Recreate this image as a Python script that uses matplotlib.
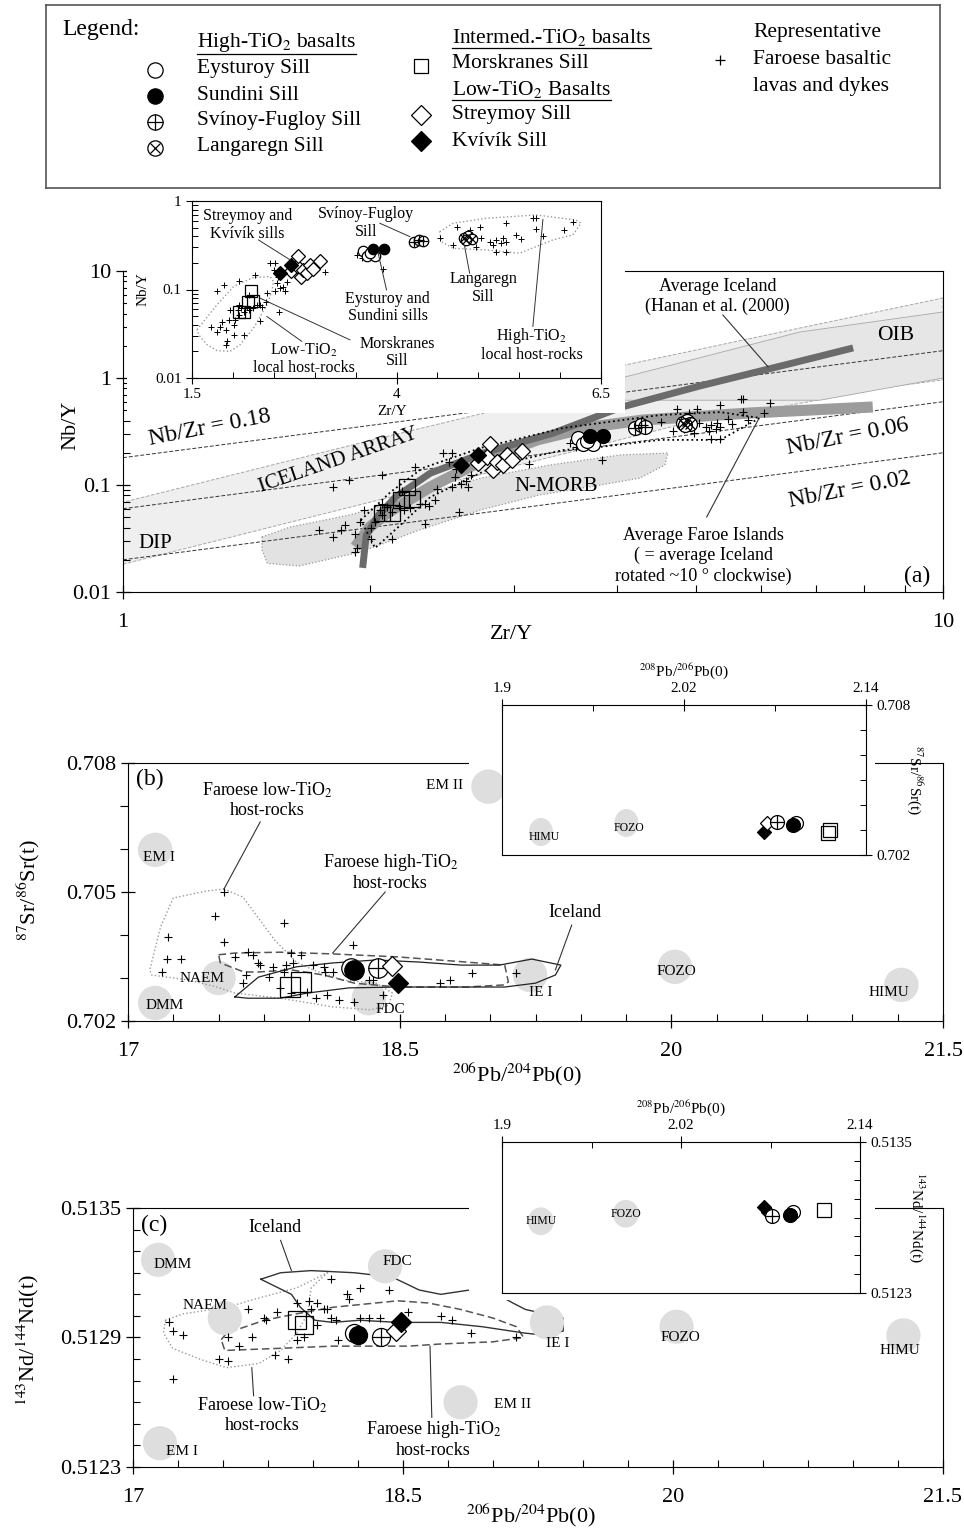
import matplotlib
matplotlib.use('Agg')
import matplotlib.pyplot as plt
import matplotlib.ticker as mticker
from matplotlib.patches import Ellipse, Rectangle

plt.rcParams['font.family'] = ['Liberation Serif', 'DejaVu Serif']
plt.rcParams['mathtext.fontset'] = 'stix'

W, H = 964, 1528

# ---------------- (a) Zr/Y vs Nb/Y ----------------
host_zry = [1.805, 1.886, 2.069, 2.272, 2.191, 2.415, 1.732, 1.805, 1.919, 1.866,
            1.947, 1.927, 1.919, 2.008, 2.028, 2.069, 2.057, 2.069, 2.13, 2.333,
            2.008, 2.569, 2.402, 2.333, 1.968, 1.846, 2.10, 2.17, 2.24, 2.30,
            2.36, 2.13, 2.20, 2.50, 2.55,
            2.455, 2.516, 2.537, 2.516, 2.618, 2.638, 2.659, 2.58, 3.126,
            3.512, 3.573, 3.634, 3.837, 4.528,
            4.74, 4.894, 5.016, 4.691, 4.833, 4.976, 5.037, 5.138, 5.179, 5.22,
            5.30, 5.28, 5.341, 5.22, 5.463, 5.524, 5.667, 5.707, 5.707, 5.789,
            5.341, 6.053, 6.154, 5.341, 4.85, 4.93]
host_nby = [0.095, 0.111, 0.125, 0.146, 0.087, 0.091, 0.0376, 0.033, 0.035, 0.0425,
            0.0455, 0.026, 0.0234, 0.040, 0.0455, 0.052, 0.059, 0.067, 0.031, 0.0436,
            0.031, 0.0555, 0.072, 0.067, 0.059, 0.038, 0.062, 0.064, 0.061, 0.066,
            0.063, 0.056, 0.058, 0.165, 0.14,
            0.198, 0.198, 0.118, 0.095, 0.108, 0.095, 0.123, 0.103, 0.156,
            0.246, 0.226, 0.236, 0.171, 0.386,
            0.514, 0.471, 0.514, 0.319, 0.333, 0.305, 0.379, 0.348, 0.319, 0.363,
            0.379, 0.333, 0.348, 0.268, 0.414, 0.37, 0.638, 0.638, 0.479, 0.403,
            0.56, 0.471, 0.585, 0.268, 0.38, 0.395]

morskranes_zry = [2.22, 2.18, 2.25, 2.07, 2.13]
morskranes_nby = [0.096, 0.072, 0.074, 0.055, 0.055]
kvivik_zry = [2.58, 2.71]
kvivik_nby = [0.154, 0.19]
streymoy_zry = [2.71, 2.78, 2.80, 2.83, 2.86, 2.91, 2.94, 2.98, 3.07]
streymoy_nby = [0.161, 0.183, 0.24, 0.138, 0.164, 0.154, 0.19, 0.171, 0.21]
eysturoy_zry = [3.59, 3.64, 3.74, 3.68]
eysturoy_nby = [0.275, 0.24, 0.24, 0.26]
sundini_zry = [3.71, 3.85]
sundini_nby = [0.29, 0.29]
svinoy_zry = [4.21, 4.28, 4.33]
svinoy_nby = [0.34, 0.36, 0.35]
langaregn_zry = [4.82, 4.87, 4.92, 4.85]
langaregn_nby = [0.38, 0.40, 0.37, 0.36]

nbzr_ratios = [0.18, 0.06, 0.02]

avg_iceland_zry = [1.96, 1.98, 2.05, 2.15, 2.37, 2.75, 3.35, 4.06, 5.05, 6.33, 7.77]
avg_iceland_nby = [0.0168, 0.0341, 0.0525, 0.0772, 0.129, 0.199, 0.306, 0.536, 0.842, 1.29, 1.91]
avg_faroe_zry = [1.92, 2.0, 2.10, 2.37, 2.75, 3.20, 3.71, 4.31, 5.82, 8.21]
avg_faroe_nby = [0.0264, 0.0405, 0.0547, 0.0958, 0.171, 0.264, 0.348, 0.405, 0.471, 0.536]

faroe_env_zry = [1.95, 2.12, 2.32, 2.73, 3.44, 4.52, 5.35, 5.98, 5.35, 4.52, 3.82, 3.44,
                 2.86, 2.37, 2.18, 2.03, 1.95]
faroe_env_nby = [0.047, 0.086, 0.144, 0.222, 0.341, 0.451, 0.48, 0.423, 0.264, 0.264, 0.227,
                 0.212, 0.154, 0.0772, 0.0423, 0.0258, 0.047]

array_zry = [1, 2, 3, 4, 5, 6.03, 8.55, 10, 10, 6.69, 4.09, 3, 2, 1]
array_nby = [0.0182, 0.069, 0.15, 0.26, 0.40, 0.50, 0.82, 0.96, 5.59, 2.93, 1.32, 0.55, 0.26, 0.069]
oib_zry = [4.09, 6.69, 10, 10, 7.08, 4.09]
oib_nby = [1.02, 2.69, 4.14, 1.0, 0.62, 0.62]
nmorb_zry = [1.477, 1.60, 1.89, 2.30, 2.73, 3.32, 4.04, 4.62, 4.58, 4.27, 3.82, 3.22,
             2.73, 2.30, 1.95, 1.64, 1.50, 1.477]
nmorb_nby = [0.0327, 0.0405, 0.0525, 0.0806, 0.116, 0.154, 0.191, 0.199, 0.154, 0.116, 0.100,
             0.0806, 0.0584, 0.038, 0.0237, 0.0175, 0.0185, 0.025]

low_env_zry = [1.561, 1.805, 2.008, 2.252, 2.455, 2.496, 2.476, 2.415, 2.252, 2.089, 1.967,
               1.805, 1.683, 1.581, 1.561]
low_env_nby = [0.0351, 0.0671, 0.108, 0.137, 0.140, 0.123, 0.095, 0.067, 0.0366, 0.0238, 0.020,
               0.0204, 0.0238, 0.0308, 0.0351]
high_env_zry = [4.528, 4.691, 5.098, 5.707, 6.195, 6.256, 6.154, 5.911, 5.504, 5.098, 4.691,
                4.549, 4.528]
high_env_nby = [0.451, 0.56, 0.638, 0.695, 0.61, 0.56, 0.414, 0.363, 0.257, 0.28, 0.292,
                0.348, 0.451]

# ---------------- (b) 206Pb/204Pb vs 87Sr/86Sr ----------------
host_b_pb = [17.53, 17.48, 17.53, 17.86, 17.22, 17.215, 17.29, 17.19, 18.24, 17.59,
             17.66, 17.69, 17.72, 17.73, 17.80, 17.87, 17.91, 17.90, 17.955, 17.86,
             17.78, 17.65, 17.635, 18.02, 18.08, 18.09, 18.13, 18.33, 18.35, 17.84,
             17.90, 17.99, 18.04, 18.10, 18.165, 18.25, 18.41, 18.72, 18.78, 18.90, 19.14]
host_b_sr = [0.70500, 0.70444, 0.70384, 0.70428, 0.70395, 0.70344, 0.70344, 0.70314, 0.70377, 0.70349,
             0.70360, 0.70354, 0.70335, 0.70330, 0.70326, 0.70330, 0.70335, 0.70358, 0.70354, 0.70314,
             0.70302, 0.70307, 0.70288, 0.70330, 0.70326, 0.70314, 0.70314, 0.70295, 0.70295, 0.70277,
             0.70265, 0.70267, 0.70253, 0.70260, 0.70249, 0.70244, 0.70260, 0.70288, 0.70295, 0.70312,
             0.70312]

low_b_pb = [17.53, 17.635, 17.81, 17.93, 18.02, 18.19, 18.37, 18.46, 18.44, 18.34, 18.13, 17.84,
            17.59, 17.49, 17.34, 17.13, 17.12, 17.18, 17.25, 17.43, 17.53]
low_b_sr = [0.70507, 0.70488, 0.70388, 0.70337, 0.70319, 0.70295, 0.70288, 0.70265, 0.70237,
            0.70226, 0.70233, 0.70253, 0.70265, 0.70279, 0.70295, 0.70307, 0.70319, 0.70419,
            0.70486, 0.70502, 0.70507]
high_b_pb = [17.50, 17.59, 17.84, 18.13, 18.49, 18.87, 19.08, 19.10, 19.08, 18.87, 18.49, 18.25,
             18.08, 17.90, 17.72, 17.64, 17.51, 17.50]
high_b_sr = [0.70354, 0.70358, 0.70360, 0.70356, 0.70349, 0.70337, 0.70330, 0.70291, 0.70284,
             0.70279, 0.70279, 0.70288, 0.70307, 0.70319, 0.70314, 0.70314, 0.70335, 0.70354]
iceland_b_pb = [17.59, 17.72, 17.93, 18.13, 18.37, 18.61, 18.84, 19.05, 19.23, 19.39, 19.36,
                19.25, 19.08, 18.72, 18.49, 18.22, 17.99, 17.84, 17.66, 17.59]
iceland_b_sr = [0.70256, 0.70302, 0.70326, 0.70335, 0.70342, 0.70337, 0.70330, 0.70330, 0.70344,
                0.70330, 0.70307, 0.70288, 0.70279, 0.70279, 0.70279, 0.70277, 0.70265, 0.70253,
                0.70253, 0.70256]

mantle_b_names = ['EM I', 'DMM', 'NAEM', 'FDC', 'IE I', 'FOZO', 'HIMU', 'EM II']
mantle_b_pb = [17.15, 17.15, 17.50, 18.33, 19.22, 20.02, 21.27, 18.99]
mantle_b_sr = [0.70598, 0.70242, 0.70300, 0.70253, 0.70307, 0.70326, 0.70284, 0.70745]

sills_b = {
    'morskranes': ([17.895, 17.955], [0.70279, 0.70291]),
    'eysturoy': ([18.23], [0.70323]),
    'sundini': ([18.25], [0.70319]),
    'svinoy': ([18.38], [0.70323]),
    'streymoy': ([18.46], [0.70328]),
    'kvivik': ([18.49], [0.70288]),
}

inset_b_names = ['HIMU', 'FOZO']
inset_b_pb86 = [1.9257, 1.982]
inset_b_sr = [0.70292, 0.70328]
inset_sills_b = {
    'morskranes': ([2.115, 2.116], [0.70288, 0.7030]),
    'kvivik': ([2.073], [0.70292]),
    'streymoy': ([2.075], [0.70328]),
    'svinoy': ([2.081], [0.70332]),
    'eysturoy': ([2.094], [0.70328]),
    'sundini': ([2.092], [0.70320]),
}

# ---------------- (c) 206Pb/204Pb vs 143Nd/144Nd ----------------
host_c_pb = [18.10, 18.26, 18.19, 18.20, 18.42, 17.91, 17.98, 18.02, 18.06, 18.08,
             17.99, 17.80, 17.73, 17.64, 17.74, 18.10, 18.13, 18.02, 17.95, 17.91,
             17.66, 17.53, 17.59, 17.79, 17.86, 17.48, 17.53, 17.28, 17.22, 17.20,
             17.22, 18.14, 18.26, 18.31, 18.37, 18.53, 18.71, 18.77, 18.88, 19.13]
host_c_nd = [0.51317, 0.51313, 0.51310, 0.51308, 0.51312, 0.51306, 0.51307, 0.51306, 0.51303, 0.51303,
             0.51303, 0.51302, 0.51299, 0.51303, 0.51298, 0.51299, 0.51298, 0.51296, 0.51290, 0.51289,
             0.51290, 0.51290, 0.51286, 0.51282, 0.51280, 0.51280, 0.51279, 0.51291, 0.51293, 0.51297,
             0.51271, 0.51289, 0.51299, 0.51299, 0.51299, 0.51302, 0.51300, 0.51298, 0.51292, 0.51290]

iceland_c_pb = [17.71, 17.82, 17.99, 18.23, 18.44, 18.59, 18.71, 18.87, 18.98, 19.11, 19.18,
                19.39, 19.39, 19.30, 19.18, 18.94, 18.71, 18.47, 18.26, 18.11, 18.01, 17.93,
                17.88, 17.71]
iceland_c_nd = [0.51317, 0.51320, 0.51321, 0.51320, 0.51318, 0.51312, 0.51310, 0.51312, 0.51312,
                0.51306, 0.51303, 0.51299, 0.51293, 0.51291, 0.51292, 0.51295, 0.51297, 0.51297,
                0.51298, 0.51297, 0.51298, 0.51304, 0.51310, 0.51317]
high_c_pb = [17.49, 17.52, 17.73, 17.91, 18.11, 18.35, 18.47, 18.64, 18.82, 19.00, 19.13, 19.17,
             19.00, 18.71, 18.53, 18.35, 18.11, 17.82, 17.51, 17.49]
high_c_nd = [0.51289, 0.51292, 0.51298, 0.51301, 0.51304, 0.51306, 0.51307, 0.51306, 0.51303,
             0.51299, 0.51295, 0.51290, 0.51288, 0.51287, 0.51286, 0.51286, 0.51286, 0.51285,
             0.51284, 0.51289]
low_c_pb = [17.18, 17.28, 17.52, 17.73, 17.91, 18.08, 17.99, 17.97, 17.91, 17.82, 17.70, 17.52,
            17.37, 17.22, 17.17, 17.18]
low_c_nd = [0.51298, 0.51301, 0.51304, 0.51309, 0.51313, 0.51320, 0.51313, 0.51301, 0.51292,
            0.51284, 0.51278, 0.51276, 0.51280, 0.51285, 0.51292, 0.51298]

mantle_c_names = ['DMM', 'FDC', 'NAEM', 'IE I', 'FOZO', 'HIMU', 'EM II', 'EM I']
mantle_c_pb = [17.14, 18.40, 17.51, 19.30, 20.02, 21.28, 18.82, 17.15]
mantle_c_nd = [0.51326, 0.51323, 0.51299, 0.51297, 0.51295, 0.51291, 0.51260, 0.51241]

sills_c = {
    'morskranes': ([17.91, 17.95], [0.51298, 0.51296]),
    'eysturoy': ([18.23], [0.51292]),
    'sundini': ([18.25], [0.51291]),
    'svinoy': ([18.38], [0.51290]),
    'streymoy': ([18.46], [0.51293]),
    'kvivik': ([18.49], [0.51297]),
}

inset_c_names = ['HIMU', 'FOZO']
inset_c_pb86 = [1.926, 1.983]
inset_c_nd = [0.51287, 0.51293]
inset_sills_c = {
    'morskranes': ([2.116], [0.51296]),
    'streymoy': ([2.078], [0.51294]),
    'kvivik': ([2.0756], [0.51298]),
    'svinoy': ([2.081], [0.51291]),
    'eysturoy': ([2.095], [0.51294]),
    'sundini': ([2.093], [0.51292]),
}


def box(x0, y0, x1, y1):
    """Axes rectangle from pixel corners measured from the top-left."""
    return [x0 / W, 1 - y1 / H, (x1 - x0) / W, (y1 - y0) / H]


def draw_sill(ax, xs, ys, kind, ms, z=6):
    kw = dict(ls='none', zorder=z, mec='black', mew=0.9)
    if kind == 'eysturoy':
        ax.plot(xs, ys, 'o', ms=ms, mfc='white', **kw)
    elif kind == 'sundini':
        ax.plot(xs, ys, 'o', ms=ms, mfc='black', **kw)
    elif kind == 'svinoy':
        ax.plot(xs, ys, 'o', ms=ms, mfc='white', **kw)
        ax.plot(xs, ys, '+', ms=ms, **kw)
    elif kind == 'langaregn':
        ax.plot(xs, ys, 'o', ms=ms, mfc='white', **kw)
        ax.plot(xs, ys, 'x', ms=ms * 0.68, **kw)
    elif kind == 'streymoy':
        ax.plot(xs, ys, 'D', ms=ms * 0.75, mfc='white', **kw)
    elif kind == 'kvivik':
        ax.plot(xs, ys, 'D', ms=ms * 0.75, mfc='black', **kw)
    elif kind == 'morskranes':
        ax.plot(xs, ys, 's', ms=ms, mfc='none', **kw)


def fixed_ticks(axis, major, labels, minor):
    axis.set_major_locator(mticker.FixedLocator(major))
    axis.set_major_formatter(mticker.FixedFormatter(labels))
    axis.set_minor_locator(mticker.FixedLocator(minor))
    axis.set_minor_formatter(mticker.NullFormatter())


def log_minors(lo_exp, hi_exp):
    return [m * 10.0 ** e for e in range(lo_exp, hi_exp) for m in range(2, 10)]


fig = plt.figure(figsize=(W / 100, H / 100), dpi=100)
fig.patch.set_facecolor('white')

# ---------------- legend box ----------------
lg = fig.add_axes(box(46, 5, 940, 188))
lg.set_xlim(46, 940)
lg.set_ylim(188, 5)
lg.set_xticks([])
lg.set_yticks([])
for s in lg.spines.values():
    s.set_color('#555555')
    s.set_linewidth(1.2)
LFS = 15.5
lg.text(62, 30, 'Legend:', fontsize=17, va='center')
hdr_high = lg.text(197, 43, 'High-TiO$_2$ basalts', fontsize=LFS, va='center')
col1 = [('eysturoy', 'Eysturoy Sill'), ('sundini', 'Sundini Sill'),
        ('svinoy', 'Svínoy-Fugloy Sill'), ('langaregn', 'Langaregn Sill')]
for i, (kind, name) in enumerate(col1):
    y = 70 + 26 * i
    draw_sill(lg, [155], [y], kind, 11)
    lg.text(197, y - 1, name, fontsize=LFS, va='center')
hdr_mid = lg.text(452, 37, 'Intermed.-TiO$_2$ basalts', fontsize=LFS, va='center')
draw_sill(lg, [421], [66], 'morskranes', 10)
lg.text(452, 63, 'Morskranes Sill', fontsize=LFS, va='center')
hdr_low = lg.text(452, 89, 'Low-TiO$_2$ Basalts', fontsize=LFS, va='center')
draw_sill(lg, [421], [115], 'streymoy', 13)
lg.text(452, 115, 'Streymoy Sill', fontsize=LFS, va='center')
draw_sill(lg, [421], [141], 'kvivik', 13)
lg.text(452, 141, 'Kvívík Sill', fontsize=LFS, va='center')
lg.plot([720], [60], '+', color='black', ms=7, mew=0.9)
for i, line in enumerate(['Representative', 'Faroese basaltic', 'lavas and dykes']):
    lg.text(753, 33 + 26.5 * i, line, fontsize=LFS, va='center')

# ---------------- panel (a) ----------------
ax = fig.add_axes(box(123, 271, 943, 592))
ax.set_xscale('log')
ax.set_yscale('log')
ax.set_xlim(1, 10)
ax.set_ylim(0.01, 10)
fixed_ticks(ax.xaxis, [1, 10], ['1', '10'], list(range(2, 10)))
fixed_ticks(ax.yaxis, [0.01, 0.1, 1, 10], ['0.01', '0.1', '1', '10'], log_minors(-2, 1))
ax.tick_params(which='major', direction='inout', length=10, width=0.9, labelsize=16)
ax.tick_params(axis='x', which='major', pad=10)
ax.tick_params(which='minor', direction='in', length=5, width=0.8)
ax.spines['top'].set_bounds(4.09, 10)
ax.set_xlabel('Zr/Y', fontsize=16)
ax.set_ylabel('Nb/Y', fontsize=16)
ax.xaxis.set_label_coords(0.474, -0.103)
ax.yaxis.set_label_coords(-0.052, 0.52)

ax.fill(array_zry, array_nby, fc='#efefef', ec='#a8a8a8', ls='--', lw=0.7, zorder=1)
ax.fill(oib_zry, oib_nby, fc='#e6e6e6', ec='#a8a8a8', lw=0.6, zorder=1.1)
ax.fill(nmorb_zry, nmorb_nby, fc='#e2e2e2', ec='#999999', ls=':', lw=0.9, zorder=1.2)
for r in nbzr_ratios:
    ax.plot([1, 10], [r, 10 * r], color='#333333', ls=(0, (4, 2)), lw=0.7, zorder=1.5)
ax.plot(avg_faroe_zry, avg_faroe_nby, color='#9c9c9c', lw=8, solid_capstyle='butt', zorder=1.8)
ax.plot(avg_iceland_zry, avg_iceland_nby, color='#6b6b6b', lw=5, solid_capstyle='butt', zorder=1.9)
ax.plot(faroe_env_zry, faroe_env_nby, color='black', ls=':', lw=1.3, zorder=2.2)
ax.plot(host_zry, host_nby, '+', color='black', ms=6, mew=0.8, ls='none', zorder=3)
draw_sill(ax, morskranes_zry, morskranes_nby, 'morskranes', 11)
draw_sill(ax, streymoy_zry, streymoy_nby, 'streymoy', 11.5)
draw_sill(ax, kvivik_zry, kvivik_nby, 'kvivik', 11.5)
draw_sill(ax, eysturoy_zry, eysturoy_nby, 'eysturoy', 10)
draw_sill(ax, sundini_zry, sundini_nby, 'sundini', 10)
draw_sill(ax, svinoy_zry, svinoy_nby, 'svinoy', 10)
draw_sill(ax, langaregn_zry, langaregn_nby, 'langaregn', 10)

# white area kept clear for the inset
ax.add_patch(Rectangle((1.01, 0.47), 4.09 - 1.01, 11, fc='white', ec='none',
                       zorder=4, clip_on=False))

ax.text(1.277, 0.345, 'Nb/Zr = 0.18', fontsize=17, rotation=11, ha='center', va='center', zorder=7)
ax.text(7.66, 0.281, 'Nb/Zr = 0.06', fontsize=17, rotation=11, ha='center', va='center', zorder=7)
ax.text(7.69, 0.0898, 'Nb/Zr = 0.02', fontsize=17, rotation=11, ha='center', va='center', zorder=7)
ax.text(1.83, 0.171, 'ICELAND ARRAY', fontsize=15, rotation=19, ha='center', va='center', zorder=7)
ax.text(1.094, 0.0287, 'DIP', fontsize=15, ha='center', va='center', zorder=7)
ax.text(3.37, 0.0958, 'N-MORB', fontsize=15, ha='center', va='center', zorder=7)
ax.text(8.75, 2.51, 'OIB', fontsize=15.5, ha='center', va='center', zorder=7)
ax.text(5.31, 5.83, 'Average Iceland\n(Hanan et al. (2000)', fontsize=13, ha='center',
        va='center', linespacing=1.2, zorder=7)
ax.plot([5.39, 6.12], [3.88, 1.27], color='#333333', lw=0.8, zorder=7)
ax.text(5.10, 0.0217, 'Average Faroe Islands\n( = average Iceland\nrotated ~10 ° clockwise)',
        fontsize=13, ha='center', va='center', linespacing=1.25, zorder=7)
ax.plot([5.15, 5.95], [0.0502, 0.405], color='#333333', lw=0.8, zorder=7)
ax.text(9.30, 0.0141, '(a)', fontsize=17, ha='center', va='center', zorder=7)

# inset of panel (a), linear Zr/Y
axi = fig.add_axes(box(192, 201, 601, 378))
axi.set_yscale('log')
axi.set_xlim(1.5, 6.5)
axi.set_ylim(0.01, 1)
fixed_ticks(axi.xaxis, [1.5, 4, 6.5], ['1.5', '4', '6.5'],
            [2.0, 2.5, 3.0, 3.5, 4.5, 5.0, 5.5, 6.0])
fixed_ticks(axi.yaxis, [0.01, 0.1, 1], ['0.01', '0.1', '1'], log_minors(-2, 0))
axi.tick_params(which='major', direction='inout', length=8, width=0.8, labelsize=11)
axi.tick_params(which='minor', direction='in', length=4, width=0.7)
axi.set_xlabel('Zr/Y', fontsize=11)
axi.set_ylabel('Nb/Y', fontsize=11)
axi.xaxis.set_label_coords(0.489, -0.15)
axi.yaxis.set_label_coords(-0.103, 0.5)
axi.plot(low_env_zry, low_env_nby, color='#999999', ls=':', lw=1.0, zorder=2)
axi.plot(high_env_zry, high_env_nby, color='#999999', ls=':', lw=1.0, zorder=2)
axi.plot(host_zry, host_nby, '+', color='black', ms=5, mew=0.7, ls='none', zorder=3)
draw_sill(axi, morskranes_zry, morskranes_nby, 'morskranes', 8)
draw_sill(axi, streymoy_zry, streymoy_nby, 'streymoy', 10)
draw_sill(axi, kvivik_zry, kvivik_nby, 'kvivik', 10)
draw_sill(axi, eysturoy_zry, eysturoy_nby, 'eysturoy', 7.5)
draw_sill(axi, sundini_zry, sundini_nby, 'sundini', 7.5)
draw_sill(axi, svinoy_zry, svinoy_nby, 'svinoy', 7.5)
draw_sill(axi, langaregn_zry, langaregn_nby, 'langaregn', 7.5)
IFS = 11.5
inset_notes = [
    (2.18, 0.536, 'Streymoy and\nKvívík sills', (2.313, 0.363), (2.70, 0.216)),
    (3.63, 0.565, 'Svínoy-Fugloy\nSill', (3.797, 0.56), (4.163, 0.396)),
    (3.89, 0.0622, 'Eysturoy and\nSundini sills', (3.776, 0.257), (3.878, 0.099)),
    (5.06, 0.104, 'Langaregn\nSill', (4.833, 0.305), (4.894, 0.153)),
    (5.65, 0.0238, 'High-TiO$_2$\nlocal host-rocks', (5.79, 0.62), (5.667, 0.0383)),
    (2.87, 0.0165, 'Low-TiO$_2$\nlocal host-rocks', (2.415, 0.0496), (2.84, 0.026)),
    (4.01, 0.0193, 'Morskranes\nSill', (2.333, 0.0798), (3.43, 0.027)),
]
for tx, ty, label, p0, p1 in inset_notes:
    axi.text(tx, ty, label, fontsize=IFS, ha='center', va='center', linespacing=1.1, zorder=8)
    axi.plot([p0[0], p1[0]], [p0[1], p1[1]], color='#333333', lw=0.7, zorder=7)


# ---------------- panels (b) and (c) ----------------
def pb_axes(rect):
    a = fig.add_axes(rect)
    a.set_xlim(17, 21.5)
    fixed_ticks(a.xaxis, [17, 18.5, 20, 21.5], ['17', '18.5', '20', '21.5'],
                [17 + 0.25 * k for k in range(19)])
    a.tick_params(which='major', direction='inout', length=10, width=0.9, labelsize=16)
    a.tick_params(axis='x', which='major', pad=10)
    a.tick_params(which='minor', direction='in', length=5, width=0.8)
    return a


def mantle_blobs(a, xs, ys, w, h):
    for x, y in zip(xs, ys):
        a.add_patch(Ellipse((x, y), w, h, fc='#dedede', ec='none', zorder=3))


# (b)
axb = pb_axes(box(128, 763, 943, 1021))
axb.set_ylim(0.702, 0.708)
fixed_ticks(axb.yaxis, [0.702, 0.705, 0.708], ['0.702', '0.705', '0.708'],
            [0.703, 0.704, 0.706, 0.707])
axb.tick_params(axis='y', which='minor', direction='out', length=6)
axb.set_xlabel('$^{206}$Pb/$^{204}$Pb(0)', fontsize=16)
axb.set_ylabel('$^{87}$Sr/$^{86}$Sr(t)', fontsize=16)
axb.xaxis.set_label_coords(0.477, -0.155)
axb.yaxis.set_label_coords(-0.106, 0.508)
axb.add_patch(Rectangle((18.883, 0.70579), 21.125 - 18.883, 0.0024, fc='white', ec='none',
                        zorder=2.6, clip_on=False))
mantle_blobs(axb, mantle_b_pb, mantle_b_sr, 0.19, 0.00080)
b_label_pos = {'EM I': (17.17, 0.70581), 'DMM': (17.20, 0.70235), 'NAEM': (17.41, 0.70300),
               'FDC': (18.45, 0.70226), 'IE I': (19.28, 0.70267), 'FOZO': (20.03, 0.70314),
               'HIMU': (21.20, 0.70267), 'EM II': (18.75, 0.70747)}
for name in mantle_b_names:
    x, y = b_label_pos[name]
    axb.text(x, y, name, fontsize=11, ha='center', va='center', zorder=8)
axb.plot(low_b_pb, low_b_sr, color='#9a9a9a', ls=':', lw=1.0, zorder=4)
axb.plot(high_b_pb, high_b_sr, color='#555555', ls=(0, (5, 2.5)), lw=1.1, zorder=4)
axb.plot(iceland_b_pb, iceland_b_sr, color='#222222', lw=0.9, zorder=4)
axb.plot(host_b_pb, host_b_sr, '+', color='black', ms=6, mew=0.8, ls='none', zorder=5)
for kind, (xs, ys) in sills_b.items():
    draw_sill(axb, xs, ys, kind, 14)
axb.text(17.12, 0.70761, '(b)', fontsize=17, ha='center', va='center', zorder=8)
axb.text(17.77, 0.70714, 'Faroese low-TiO$_2$\nhost-rocks', fontsize=13, ha='center',
         va='center', linespacing=1.15, zorder=8)
axb.plot([17.73, 17.53], [0.70663, 0.70507], color='#333333', lw=0.8, zorder=7)
axb.text(18.45, 0.70547, 'Faroese high-TiO$_2$\nhost-rocks', fontsize=13, ha='center',
         va='center', linespacing=1.15, zorder=8)
axb.plot([18.42, 18.13], [0.70500, 0.70358], color='#333333', lw=0.8, zorder=7)
axb.text(19.47, 0.70453, 'Iceland', fontsize=13, ha='center', va='center', zorder=8)
axb.plot([19.45, 19.36], [0.70423, 0.70319], color='#333333', lw=0.8, zorder=7)

# (c)
axc = pb_axes(box(133, 1208, 943, 1467))
axc.set_ylim(0.5123, 0.5135)
fixed_ticks(axc.yaxis, [0.5123, 0.5129, 0.5135], ['0.5123', '0.5129', '0.5135'],
            [0.5123 + 0.0001 * k for k in range(1, 12) if k != 6])
axc.set_xlabel('$^{206}$Pb/$^{204}$Pb(0)', fontsize=16)
axc.set_ylabel('$^{143}$Nd/$^{144}$Nd(t)', fontsize=16)
axc.xaxis.set_label_coords(0.491, -0.135)
axc.yaxis.set_label_coords(-0.113, 0.49)
axc.add_patch(Rectangle((18.867, 0.513073), 21.122 - 18.867, 0.0005, fc='white', ec='none',
                        zorder=2.6, clip_on=False))
mantle_blobs(axc, mantle_c_pb, mantle_c_nd, 0.19, 0.000158)
c_label_pos = {'DMM': (17.22, 0.51324), 'FDC': (18.47, 0.51325), 'NAEM': (17.40, 0.51305),
               'IE I': (19.36, 0.51287), 'FOZO': (20.04, 0.51290), 'HIMU': (21.26, 0.51284),
               'EM II': (19.11, 0.51259), 'EM I': (17.27, 0.51237)}
for name in mantle_c_names:
    x, y = c_label_pos[name]
    axc.text(x, y, name, fontsize=11, ha='center', va='center', zorder=8)
axc.plot(low_c_pb, low_c_nd, color='#9a9a9a', ls=':', lw=1.0, zorder=2)
axc.plot(high_c_pb, high_c_nd, color='#555555', ls=(0, (5, 2.5)), lw=1.1, zorder=2)
axc.plot(iceland_c_pb, iceland_c_nd, color='#333333', lw=1.0, zorder=2)
axc.plot(host_c_pb, host_c_nd, '+', color='black', ms=6, mew=0.8, ls='none', zorder=5)
for kind, (xs, ys) in sills_c.items():
    draw_sill(axc, xs, ys, kind, 13)
axc.text(17.12, 0.51342, '(c)', fontsize=17, ha='center', va='center', zorder=8)
axc.text(17.79, 0.51341, 'Iceland', fontsize=13, ha='center', va='center', zorder=8)
axc.plot([17.82, 17.88], [0.51335, 0.51321], color='#333333', lw=0.8, zorder=7)
axc.text(17.72, 0.51254, 'Faroese low-TiO$_2$\nhost-rocks', fontsize=13, ha='center',
         va='center', linespacing=1.15, zorder=8)
axc.plot([17.67, 17.66], [0.51263, 0.51276], color='#333333', lw=0.8, zorder=7)
axc.text(18.67, 0.51243, 'Faroese high-TiO$_2$\nhost-rocks', fontsize=13, ha='center',
         va='center', linespacing=1.15, zorder=8)
axc.plot([18.66, 18.65], [0.51253, 0.51286], color='#333333', lw=0.8, zorder=7)


# insets of (b) and (c), 208Pb/206Pb on top axis
def pb86_inset(rect, ylo, yhi, yminor, ylabels, ylabel):
    a = fig.add_axes(rect)
    a.set_xlim(1.9, 2.14)
    a.set_ylim(ylo, yhi)
    a.xaxis.tick_top()
    a.xaxis.set_label_position('top')
    a.yaxis.tick_right()
    a.yaxis.set_label_position('right')
    fixed_ticks(a.xaxis, [1.9, 2.02, 2.14], ['1.9', '2.02', '2.14'], [1.96, 2.08])
    fixed_ticks(a.yaxis, [ylo, yhi], ylabels, yminor)
    a.tick_params(which='major', direction='inout', length=8, width=0.8, labelsize=11)
    a.tick_params(which='minor', direction='in', length=4, width=0.7)
    a.set_xlabel('$^{208}$Pb/$^{206}$Pb(0)', fontsize=11, labelpad=4)
    a.set_ylabel(ylabel, fontsize=11, rotation=270, labelpad=10)
    return a


axbi = pb86_inset(box(502, 705, 866, 855), 0.702, 0.708, [0.703, 0.704, 0.705, 0.706, 0.707],
                  ['0.702', '0.708'], '$^{87}$Sr/$^{86}$Sr(t)')
mantle_blobs(axbi, inset_b_pb86, inset_b_sr, 0.0158, 0.00112)
for name, x, y in zip(inset_b_names, inset_b_pb86, inset_b_sr):
    axbi.text(x + 0.002, y - 0.0002, name, fontsize=8.5, ha='center', va='center', zorder=8)
for kind, (xs, ys) in inset_sills_b.items():
    draw_sill(axbi, xs, ys, kind, 10)

axci = pb86_inset(box(502, 1142, 860, 1293), 0.5123, 0.5135,
                  [0.5123 + 0.00015 * k for k in range(1, 8)],
                  ['0.5123', '0.5135'], '$^{143}$Nd/$^{144}$Nd(t)')
mantle_blobs(axci, inset_c_pb86, inset_c_nd, 0.0174, 0.00022)
for name, x, y in zip(inset_c_names, inset_c_pb86, inset_c_nd):
    axci.text(x, y, name, fontsize=8.5, ha='center', va='center', zorder=8)
for kind, (xs, ys) in inset_sills_c.items():
    draw_sill(axci, xs, ys, kind, 10)

# underline the legend group headings
fig.canvas.draw()
renderer = fig.canvas.get_renderer()
inv = lg.transData.inverted()
for t, y in [(hdr_high, 54), (hdr_mid, 48), (hdr_low, 100)]:
    bb = t.get_window_extent(renderer)
    x0 = inv.transform((bb.x0, bb.y0))[0]
    x1 = inv.transform((bb.x1, bb.y0))[0]
    lg.plot([x0, x1], [y, y], color='black', lw=0.9)

fig.savefig('out.png', dpi=100)
